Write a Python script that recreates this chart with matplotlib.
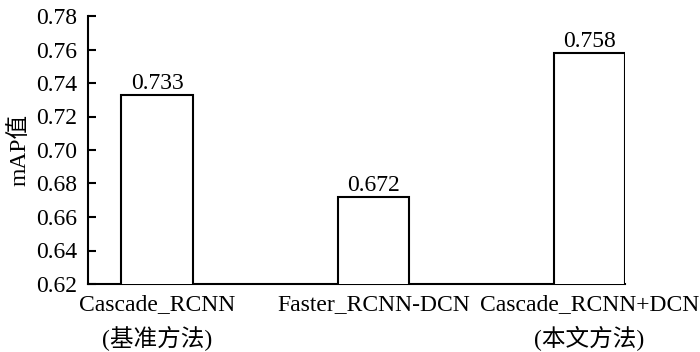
#!/usr/bin/env python3
import matplotlib
matplotlib.use('Agg')
import matplotlib.pyplot as plt

plt.rcParams['font.family'] = ['Liberation Serif', 'Noto Sans CJK SC']
plt.rcParams['axes.unicode_minus'] = False

methods = ['Cascade_RCNN\n(基准方法)', 'Faster_RCNN-DCN', 'Cascade_RCNN+DCN\n(本文方法)']
map_vals = [0.733, 0.672, 0.758]
yticks = [0.62, 0.64, 0.66, 0.68, 0.70, 0.72, 0.74, 0.76, 0.78]

fig = plt.figure(figsize=(7, 3.52), dpi=100)
ax = fig.add_axes([88 / 700, 1 - 284 / 352, (625 - 88) / 700, (284 - 16) / 352])

x = list(range(len(methods)))
bars = ax.bar(x, map_vals, width=0.33, color='white', edgecolor='black',
              linewidth=1.5, zorder=3)
for b, v in zip(bars, map_vals):
    ax.text(b.get_x() + b.get_width() / 2, v + 0.0006, f'{v:.3f}',
            ha='center', va='bottom', fontsize=17)

ax.set_xlim(-0.32, 2.165)
ax.set_ylim(0.62, 0.78)
ax.set_yticks(yticks)
ax.set_yticklabels([f'{t:.2f}' for t in yticks], fontsize=17)
ax.set_xticks(x)
ax.set_xticklabels(methods, fontsize=17, linespacing=1.55)
ax.tick_params(axis='x', length=0, pad=7)
ax.tick_params(axis='y', direction='in', length=6, width=1.5, pad=8)
ax.set_ylabel('mAP值', fontsize=17, labelpad=4)

for s in ['top', 'right']:
    ax.spines[s].set_visible(False)
for s in ['left', 'bottom']:
    ax.spines[s].set_linewidth(1.5)

fig.savefig('out.png', dpi=100)
